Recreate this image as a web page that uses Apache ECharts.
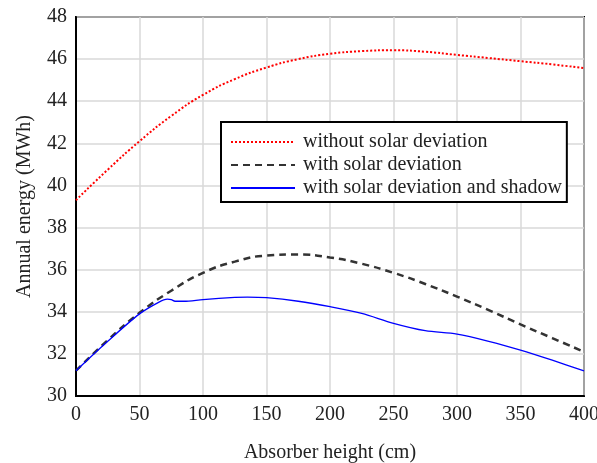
<!DOCTYPE html>
<html><head><meta charset="utf-8">
<script src="https://cdn.jsdelivr.net/npm/echarts@6/dist/echarts.min.js"></script>
<style>html,body{margin:0;padding:0;background:#fff}#c{width:597px;height:463px}</style>
</head><body><div id="c"></div>
<script>
const xMain = [0,25,50,75,100,125,150,175,200,225,250,275,300,325,350,375,400];
const redVals = [39.3,40.75,42.1,43.3,44.3,45.05,45.6,46.0,46.25,46.38,46.42,46.35,46.2,46.05,45.9,45.75,45.57];
const blackVals = [31.2,32.65,33.95,35.0,35.85,36.38,36.67,36.72,36.58,36.28,35.85,35.32,34.72,34.08,33.4,32.75,32.1];
const xBlue = [0,25,50,65,72,75,78,85,100,125,135,150,175,200,225,250,275,300,325,350,375,400];
const blueVals = [31.2,32.6,33.9,34.45,34.6,34.58,34.5,34.5,34.58,34.68,34.7,34.67,34.5,34.24,33.92,33.45,33.1,32.94,32.6,32.18,31.7,31.19];
const names = ['without solar deviation','with solar deviation','with solar deviation and shadow'];
const pair = (xs, ys) => xs.map((x,i)=>[x,ys[i]]);
const font = 'Liberation Serif';
const chart = echarts.init(document.getElementById('c'));
chart.setOption({
  animation:false,
  grid:{left:76,right:13,top:17,bottom:67,outerBoundsMode:'none',containLabel:false,show:true,borderColor:'#000',borderWidth:2,backgroundColor:'transparent'},
  xAxis:{type:'value',min:0,max:400,interval:50,
    name:'Absorber height (cm)',nameLocation:'middle',nameGap:47,
    nameTextStyle:{fontFamily:font,fontSize:20,color:'#222'},
    axisLine:{show:true,lineStyle:{color:'#000',width:2}},axisTick:{show:false},
    axisLabel:{fontFamily:font,fontSize:20,color:'#222',margin:9},
    splitLine:{show:true,lineStyle:{color:'#d9d9d9',width:1.5}}},
  yAxis:{type:'value',min:30,max:48,interval:2,
    name:'Annual energy (MWh)',nameLocation:'middle',nameGap:41,
    nameTextStyle:{fontFamily:font,fontSize:20,color:'#222'},
    axisLine:{show:true,lineStyle:{color:'#000',width:2}},axisTick:{show:false},
    axisLabel:{fontFamily:font,fontSize:20,color:'#222',margin:9},
    splitLine:{show:true,lineStyle:{color:'#d9d9d9',width:1.5}}},
  legend:{left:221,top:122,orient:'vertical',itemWidth:64,itemHeight:14,itemGap:3,
    padding:[10,5,4,9],borderColor:'#000',borderWidth:2,backgroundColor:'#fff',
    itemStyle:{opacity:0},
    textStyle:{fontFamily:font,fontSize:20,lineHeight:20,color:'#222',padding:[0,0,0,3]},data:names},
  series:[
    {name:names[0],type:'line',smooth:true,symbol:'none',data:pair(xMain,redVals),
      lineStyle:{color:'#ff0000',width:2,type:[2,2]},itemStyle:{color:'#ff0000'}},
    {name:names[1],type:'line',smooth:true,symbol:'none',data:pair(xMain,blackVals),
      lineStyle:{color:'#333',width:2.5,type:[7,5]},itemStyle:{color:'#333'}},
    {name:names[2],type:'line',smooth:0.3,symbol:'none',data:pair(xBlue,blueVals),
      lineStyle:{color:'#0000ff',width:1.3},itemStyle:{color:'#0000ff'}}
  ]
});
</script></body></html>
